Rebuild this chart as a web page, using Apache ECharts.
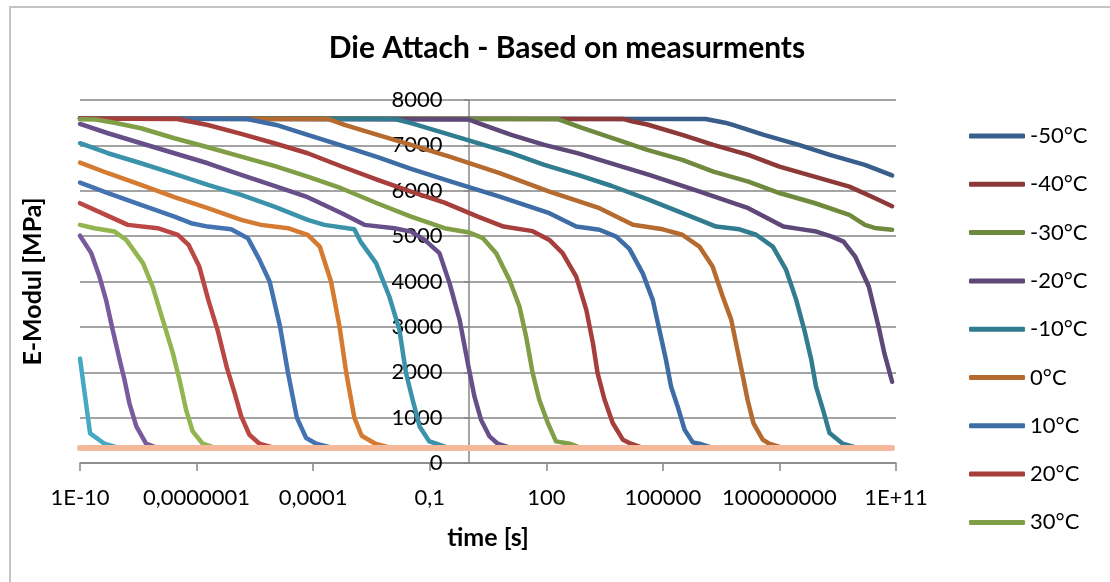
<!DOCTYPE html>
<html>
<head>
<meta charset="utf-8">
<script src="https://cdn.jsdelivr.net/npm/echarts@6/dist/echarts.min.js"></script>
<style>
  html, body { margin: 0; padding: 0; background: #fff; overflow: hidden; }
  #chart { width: 1110px; height: 582px; }
</style>
</head>
<body>
<div id="chart"></div>
<script>
// Relaxation master curves of the die attach: E-modulus [MPa] over time [s].
// Each point is [log10(time / s), E-modulus].

const seriesNames = ['-50°C', '-40°C', '-30°C', '-20°C', '-10°C', '0°C', '10°C', '20°C', '30°C',
  '40°C', '50°C', '60°C', '70°C', '80°C', '90°C', '100°C', '110°C', '120°C'];

const seriesColors = ['#395E8C', '#8C3937', '#6F8A3E', '#5D4878', '#327C8F', '#B56A2F',
  '#3E6CA5', '#A63F3C', '#809E46', '#67508A', '#3A93AB', '#D57A31',
  '#4473B2', '#BA4744', '#93B550', '#785B9C', '#46A9C4', '#F4B99B'];

const xTickExps = [-10, -7, -4, -1, 2, 5, 8, 11];
const xTickLabels = ['1E-10', '0,0000001', '0,0001', '0,1', '100', '100000', '100000000', '1E+11'];

const e_m50 = [[-10,7590],[6.1,7580],[6.6,7500],[6.8,7450],[7.6,7230],[8.5,7010],[9.3,6790],[10.2,6570],[10.9,6340]];
const e_m40 = [[-10,7590],[4.0,7580],[4.2,7530],[4.6,7460],[5.5,7230],[6.3,7010],[7.2,6790],[8.0,6530],[8.9,6310],[9.8,6090],[10.45,5840],[10.9,5660]];
const e_m30 = [[-10,7590],[2.3,7580],[2.9,7390],[3.8,7130],[4.6,6900],[5.5,6680],[6.3,6420],[7.2,6200],[8.0,5950],[8.9,5730],[9.8,5470],[10.2,5250],[10.45,5180],[10.9,5140]];
const e_m20 = [[-10,7590],[0.0,7570],[0.25,7490],[1.1,7230],[1.95,7010],[2.8,6830],[3.65,6610],[4.65,6350],[5.95,5980],[7.2,5615],[8.1,5210],[8.5,5160],[8.95,5100],[9.35,4990],[9.65,4880],[9.95,4550],[10.3,3890],[10.57,2935],[10.7,2420],[10.9,1790]];
const e_m10 = [[-10,7590],[-1.9,7580],[-1.48,7490],[-0.62,7270],[0.24,7050],[1.1,6830],[1.95,6570],[2.81,6350],[3.67,6110],[4.65,5800],[5.94,5360],[6.37,5210],[6.97,5150],[7.4,5030],[7.83,4770],[8.17,4260],[8.43,3600],[8.64,2935],[8.82,2275],[8.94,1690],[9.12,1175],[9.29,660],[9.63,425],[10.0,330]];
const e_0 = [[-10,7590],[-3.6,7580],[-3.19,7450],[-2.34,7230],[-1.48,7010],[-0.49,6750],[0.8,6390],[2.08,5980],[3.37,5615],[4.23,5250],[5.0,5150],[5.5,5030],[5.94,4770],[6.28,4330],[6.54,3670],[6.76,3155],[6.9,2570],[7.06,1905],[7.18,1395],[7.33,880],[7.57,515],[7.74,425],[8.1,330]];
const e_10 = [[-10,7590],[-5.7,7580],[-4.95,7450],[-4.14,7230],[-3.28,7000],[-2.34,6740],[-1.48,6480],[-0.49,6210],[0.8,5870],[2.08,5505],[2.77,5210],[3.37,5140],[3.8,4990],[4.14,4720],[4.48,4184],[4.74,3596],[4.91,2935],[5.08,2275],[5.21,1687],[5.38,1246],[5.56,733],[5.77,454],[5.94,425],[6.3,330]];
const e_20 = [[-10,7590],[-7.5,7580],[-6.71,7450],[-5.85,7252],[-5.0,7047],[-4.14,6827],[-3.28,6540],[-2.34,6239],[-1.48,5981],[-0.62,5739],[0.24,5431],[0.9,5210],[1.65,5110],[2.08,4917],[2.42,4625],[2.77,4109],[3.03,3376],[3.2,2643],[3.32,1982],[3.5,1394],[3.71,881],[3.97,514],[4.18,425],[4.5,330]];
const e_30 = [[-10,7575],[-9.6,7570],[-9.11,7500],[-8.43,7377],[-7.57,7157],[-6.71,6959],[-5.85,6752],[-5.0,6547],[-4.14,6311],[-3.28,6056],[-2.34,5720],[-1.48,5431],[-0.62,5175],[0.02,5080],[0.37,4955],[0.71,4625],[1.05,4037],[1.31,3449],[1.48,2788],[1.65,1982],[1.82,1394],[2.04,881],[2.25,476],[2.6,425],[2.9,330]];
const e_40 = [[-10,7472],[-9.28,7267],[-8.43,7047],[-7.57,6827],[-6.71,6606],[-5.85,6349],[-5.0,6107],[-4.14,5858],[-3.25,5500],[-2.68,5248],[-1.91,5175],[-1.48,5100],[-1.13,4917],[-0.75,4625],[-0.49,3964],[-0.23,3156],[-0.02,2202],[0.15,1467],[0.32,954],[0.54,586],[0.75,425],[1.1,330]];
const e_50 = [[-10,7047],[-9.28,6827],[-8.43,6606],[-7.57,6371],[-6.71,6129],[-5.85,5908],[-5.0,5651],[-4.14,5358],[-3.71,5248],[-2.94,5150],[-2.78,4880],[-2.38,4404],[-2.04,3669],[-1.78,2935],[-1.61,1982],[-1.44,1394],[-1.26,806],[-1.01,476],[-0.83,425],[-0.5,330]];
const e_60 = [[-10,6620],[-9.28,6386],[-8.43,6129],[-7.57,5858],[-6.71,5616],[-5.85,5358],[-5.34,5248],[-4.65,5175],[-4.14,5028],[-3.83,4770],[-3.54,4000],[-3.32,3000],[-3.15,2000],[-2.94,1000],[-2.75,600],[-2.4,425],[-2.0,330]];
const e_70 = [[-10,6179],[-9.28,5946],[-8.43,5688],[-7.57,5431],[-7.14,5285],[-6.71,5210],[-6.11,5153],[-5.68,4955],[-5.38,4477],[-5.12,4000],[-4.85,3000],[-4.65,2000],[-4.42,1000],[-4.18,551],[-3.92,425],[-3.5,330]];
const e_80 = [[-10,5726],[-9.28,5446],[-8.77,5248],[-8.0,5175],[-7.48,5028],[-7.2,4800],[-6.93,4329],[-6.7,3600],[-6.45,2900],[-6.22,2100],[-6.02,1541],[-5.85,1026],[-5.64,623],[-5.38,425],[-5.0,330]];
const e_90 = [[-10,5248],[-9.63,5175],[-9.11,5100],[-8.81,4917],[-8.38,4404],[-8.13,3889],[-7.87,3156],[-7.61,2422],[-7.44,1834],[-7.27,1174],[-7.1,696],[-6.84,425],[-6.5,330]];
const e_100 = [[-10,5010],[-9.71,4625],[-9.5,4109],[-9.33,3596],[-9.16,2935],[-8.98,2275],[-8.855,1834],[-8.73,1321],[-8.55,806],[-8.3,425],[-8.0,330]];
const e_110 = [[-10,2300],[-9.88,1536],[-9.74,654],[-9.37,425],[-9.0,330]];
const e_120 = [[-10,330],[10.9,330]];

const seriesData = [e_m50, e_m40, e_m30, e_m20, e_m10, e_0, e_10, e_20, e_30,
  e_40, e_50, e_60, e_70, e_80, e_90, e_100, e_110, e_120];

const FONT = 'Lato, "Open Sans", "DejaVu Sans", sans-serif';
const AXIS_GRAY = '#868686';

// plot area; the value axis crosses the time axis at t = 1 s (log10 t = 0)
const GRID_LEFT = 80, GRID_TOP = 100, GRID_W = 816, GRID_H = 363;
const X_MIN = -10, X_MAX = 11;
const yAxisShift = -GRID_W * (0 - X_MIN) / (X_MAX - X_MIN);

const chart = echarts.init(document.getElementById('chart'), null, { renderer: 'canvas' });

chart.setOption({
  animation: false,
  backgroundColor: '#ffffff',
  textStyle: { fontFamily: FONT, color: '#000' },
  graphic: [{
    type: 'rect',
    silent: true,
    z: -10,
    shape: { x: 10, y: 7, width: 1300, height: 800 },
    style: { fill: null, stroke: '#c4c4c4', lineWidth: 2 }
  }],
  title: {
    text: 'Die Attach - Based on measurments',
    left: 562,
    textAlign: 'center',
    top: 28,
    textStyle: { fontFamily: FONT, fontSize: 30, fontWeight: 'bold', color: '#000' }
  },
  legend: {
    data: seriesNames.slice(0, 9),
    orient: 'vertical',
    left: 964,
    top: 120,
    itemWidth: 56,
    itemHeight: 5,
    itemGap: 26.3,
    icon: 'roundRect',
    textStyle: { fontFamily: FONT, fontSize: 22, lineHeight: 22, color: '#000' }
  },
  grid: {
    left: GRID_LEFT, top: GRID_TOP, width: GRID_W, height: GRID_H,
    containLabel: false,
    outerBoundsMode: 'none'
  },
  xAxis: {
    type: 'value',
    min: X_MIN,
    max: X_MAX,
    name: 'time [s]',
    nameLocation: 'middle',
    nameGap: 62,
    nameTextStyle: { fontFamily: FONT, fontSize: 25, fontWeight: 'bold', color: '#000' },
    axisLine: { show: true, onZero: false, lineStyle: { color: AXIS_GRAY, width: 1.5 } },
    axisTick: { show: true, customValues: xTickExps, length: 8, lineStyle: { color: AXIS_GRAY, width: 1.5 } },
    axisLabel: {
      customValues: xTickExps,
      showMinLabel: true,
      showMaxLabel: true,
      hideOverlap: false,
      margin: 24,
      fontFamily: FONT,
      fontSize: 22,
      color: '#000',
      formatter: function (v) {
        const i = xTickExps.indexOf(Math.round(v));
        return i >= 0 ? xTickLabels[i] : '';
      }
    },
    splitLine: { show: false }
  },
  yAxis: {
    type: 'value',
    min: 0,
    max: 8000,
    interval: 1000,
    offset: yAxisShift,
    name: 'E-Modul [MPa]',
    nameLocation: 'middle',
    nameGap: 423,
    nameTextStyle: { fontFamily: FONT, fontSize: 25, fontWeight: 'bold', color: '#000' },
    axisLine: { show: true, onZero: false, lineStyle: { color: AXIS_GRAY, width: 1.5 } },
    axisTick: { show: true, length: 5, lineStyle: { color: AXIS_GRAY, width: 1.5 } },
    axisLabel: {
      margin: 26,
      showMinLabel: true,
      showMaxLabel: true,
      fontFamily: FONT,
      fontSize: 22,
      color: '#000',
      formatter: function (v) { return String(v); }
    },
    splitLine: { show: true, lineStyle: { color: AXIS_GRAY, width: 1.5 } }
  },
  series: seriesNames.map(function (name, i) {
    const last = i === seriesNames.length - 1;
    return {
      name: name,
      type: 'line',
      data: seriesData[i],
      symbol: 'none',
      showSymbol: false,
      smooth: false,
      z: 2 + i * 0.01,
      itemStyle: { color: seriesColors[i] },
      lineStyle: { color: seriesColors[i], width: last ? 6 : 4.5, cap: 'round', join: 'round' },
      emphasis: { disabled: true }
    };
  })
});
</script>
</body>
</html>
